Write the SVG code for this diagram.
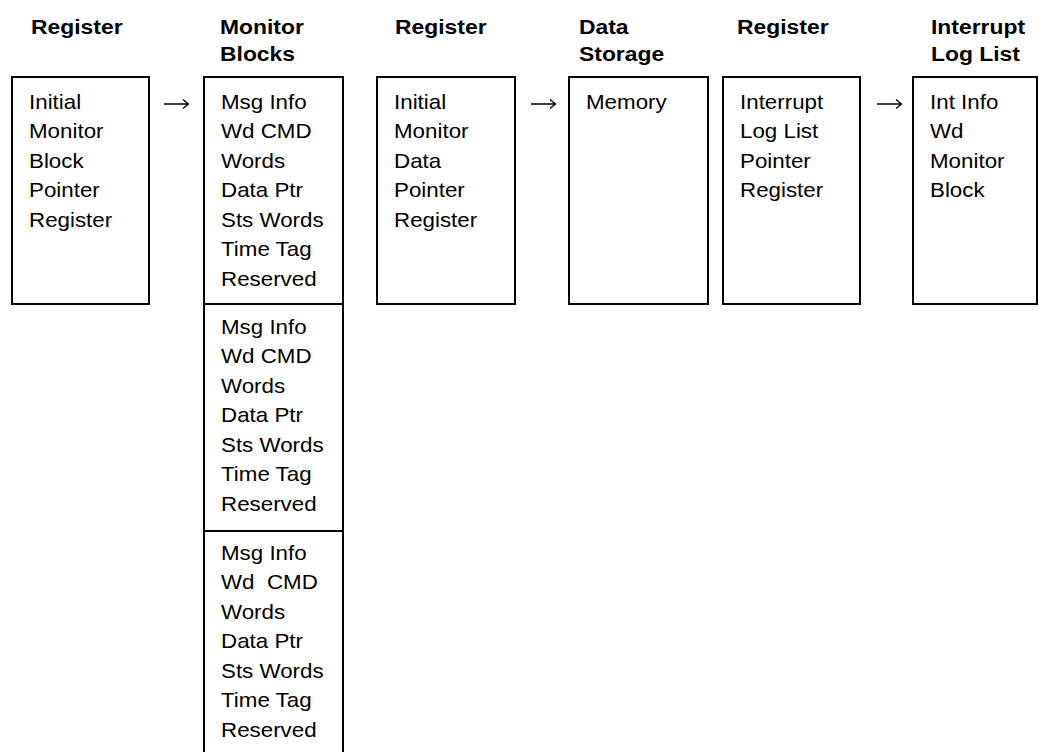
<svg xmlns="http://www.w3.org/2000/svg" width="1039" height="752" viewBox="0 0 1039 752">
<style>
.box{fill:#fff;stroke:#000;stroke-width:2}
.hd{font-family:"Liberation Sans",Arial,sans-serif;font-weight:bold;font-size:21px;fill:#000}
.tx{font-family:"Liberation Sans",Arial,sans-serif;font-size:20.5px;fill:#000}
.conn{fill:none;stroke:#000;stroke-width:1.3}
</style>
<rect width="1039" height="752" fill="#fff"/>
<g id="headers">
<g transform="translate(31,0) scale(1.09,1)"><text class="hd" x="0" y="34">Register</text></g>
<g transform="translate(220,0) scale(1.09,1)"><text class="hd" x="0" y="34">Monitor</text><text class="hd" x="0" y="61">Blocks</text></g>
<g transform="translate(395,0) scale(1.09,1)"><text class="hd" x="0" y="34">Register</text></g>
<g transform="translate(579,0) scale(1.09,1)"><text class="hd" x="0" y="34">Data</text><text class="hd" x="0" y="61">Storage</text></g>
<g transform="translate(737,0) scale(1.09,1)"><text class="hd" x="0" y="34">Register</text></g>
<g transform="translate(931,0) scale(1.09,1)"><text class="hd" x="0" y="34">Interrupt</text><text class="hd" x="0" y="61">Log List</text></g>
</g>
<g id="node-imbpr">
<rect class="box" x="12" y="77" width="137" height="227"/>
<g transform="translate(29,0) scale(1.09,1)">
<text class="tx" x="0" y="109">Initial</text>
<text class="tx" x="0" y="138.5">Monitor</text>
<text class="tx" x="0" y="168">Block</text>
<text class="tx" x="0" y="197.5">Pointer</text>
<text class="tx" x="0" y="227">Register</text>
</g>
</g>
<g id="node-monitor-blocks">
<rect class="box" x="204" y="77" width="139" height="690"/>
<line class="box" x1="204" y1="304" x2="343" y2="304"/>
<line class="box" x1="204" y1="531" x2="343" y2="531"/>
<g id="mb1" transform="translate(221,0) scale(1.09,1)">
<text class="tx" x="0" y="109">Msg Info</text>
<text class="tx" x="0" y="138.5">Wd CMD</text>
<text class="tx" x="0" y="168">Words</text>
<text class="tx" x="0" y="197.5">Data Ptr</text>
<text class="tx" x="0" y="227">Sts Words</text>
<text class="tx" x="0" y="256.5">Time Tag</text>
<text class="tx" x="0" y="286">Reserved</text>
</g>
<g id="mb2" transform="translate(221,0) scale(1.09,1)">
<text class="tx" x="0" y="334">Msg Info</text>
<text class="tx" x="0" y="363.5">Wd CMD</text>
<text class="tx" x="0" y="393">Words</text>
<text class="tx" x="0" y="422.5">Data Ptr</text>
<text class="tx" x="0" y="452">Sts Words</text>
<text class="tx" x="0" y="481.5">Time Tag</text>
<text class="tx" x="0" y="511">Reserved</text>
</g>
<g id="mb3" transform="translate(221,0) scale(1.09,1)">
<text class="tx" x="0" y="560">Msg Info</text>
<text class="tx" x="0" y="589.5">Wd&#160; CMD</text>
<text class="tx" x="0" y="619">Words</text>
<text class="tx" x="0" y="648.5">Data Ptr</text>
<text class="tx" x="0" y="678">Sts Words</text>
<text class="tx" x="0" y="707.5">Time Tag</text>
<text class="tx" x="0" y="737">Reserved</text>
</g>
</g>
<g id="node-imdpr">
<rect class="box" x="377" y="77" width="138" height="227"/>
<g transform="translate(394,0) scale(1.09,1)">
<text class="tx" x="0" y="109">Initial</text>
<text class="tx" x="0" y="138.5">Monitor</text>
<text class="tx" x="0" y="168">Data</text>
<text class="tx" x="0" y="197.5">Pointer</text>
<text class="tx" x="0" y="227">Register</text>
</g>
</g>
<g id="node-memory">
<rect class="box" x="569" y="77" width="139" height="227"/>
<g transform="translate(586,0) scale(1.09,1)">
<text class="tx" x="0" y="109">Memory</text>
</g>
</g>
<g id="node-illpr">
<rect class="box" x="723" y="77" width="137" height="227"/>
<g transform="translate(740,0) scale(1.09,1)">
<text class="tx" x="0" y="109">Interrupt</text>
<text class="tx" x="0" y="138.5">Log List</text>
<text class="tx" x="0" y="168">Pointer</text>
<text class="tx" x="0" y="197.5">Register</text>
</g>
</g>
<g id="node-intlog">
<rect class="box" x="913" y="77" width="124" height="227"/>
<g transform="translate(930,0) scale(1.09,1)">
<text class="tx" x="0" y="109">Int Info</text>
<text class="tx" x="0" y="138.5">Wd</text>
<text class="tx" x="0" y="168">Monitor</text>
<text class="tx" x="0" y="197.5">Block</text>
</g>
</g>
<g id="connectors">
<path class="conn" d="M164,104 H188.5 M183,99.5 L188.5,104 L183,108.5"/>
<path class="conn" d="M531,104 H555.5 M550,99.5 L555.5,104 L550,108.5"/>
<path class="conn" d="M877,104 H901.5 M896,99.5 L901.5,104 L896,108.5"/>
</g>
</svg>
